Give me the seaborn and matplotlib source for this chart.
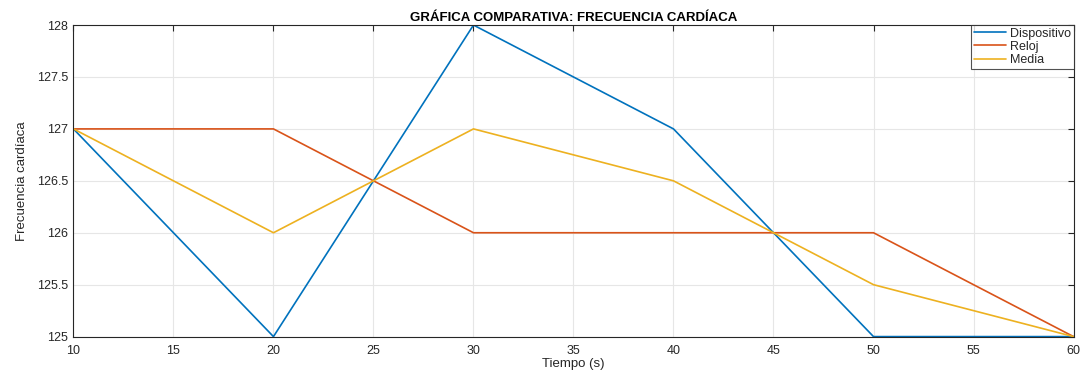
import pandas as pd
import matplotlib
matplotlib.use("Agg")
import matplotlib.pyplot as plt
import seaborn as sns

# Data
tiempo = [10, 20, 30, 40, 50, 60]
dispositivo = [127, 125, 128, 127, 125, 125]
reloj = [127, 127, 126, 126, 126, 125]
media = [127, 126, 127, 126.5, 125.5, 125]

series_names = ["Dispositivo", "Reloj", "Media"]
colors = ["#0072BD", "#D95319", "#EDB120"]

df = pd.DataFrame({
    "Tiempo": tiempo * 3,
    "Valor": dispositivo + reloj + media,
    "Serie": [s for s in series_names for _ in tiempo],
})

sns.set_style("whitegrid")
plt.rcParams["font.family"] = ["Liberation Sans", "DejaVu Sans"]

fig, ax = plt.subplots(figsize=(10.8, 3.74), dpi=100)
fig.subplots_adjust(left=0.068, right=0.994, top=0.933, bottom=0.10)

sns.lineplot(data=df, x="Tiempo", y="Valor", hue="Serie",
             palette=dict(zip(series_names, colors)), linewidth=1.2, ax=ax)

ax.set_xlim(10, 60)
ax.set_ylim(125, 128)
ax.set_xticks(range(10, 61, 5))
ax.set_yticks([125, 125.5, 126, 126.5, 127, 127.5, 128])
ax.set_yticklabels(["125", "125.5", "126", "126.5", "127", "127.5", "128"])

ax.grid(True, color="#e6e6e6", linewidth=0.8)
for sp in ax.spines.values():
    sp.set_visible(True)
    sp.set_color("#262626")
    sp.set_linewidth(0.8)
ax.tick_params(direction="in", length=4, labelsize=9, colors="#262626",
               top=True, right=True, pad=4)
ax.tick_params(axis="x", pad=6)

ax.set_xlabel("Tiempo (s)", fontsize=9.5, color="#262626", labelpad=1)
ax.set_ylabel("Frecuencia cardíaca", fontsize=9.5, color="#262626", labelpad=6)
ax.set_title("GRÁFICA COMPARATIVA: FRECUENCIA CARDÍACA", fontsize=9.5,
             fontweight="bold", color="black", pad=3)

leg = ax.legend(loc="upper right", fontsize=9, frameon=True, fancybox=False,
                borderpad=0.2, labelspacing=0.1, handlelength=2.6,
                handletextpad=0.3, borderaxespad=0.0)
leg.get_frame().set_edgecolor("#262626")
leg.get_frame().set_linewidth(0.8)

fig.savefig("out.png", dpi=100)
